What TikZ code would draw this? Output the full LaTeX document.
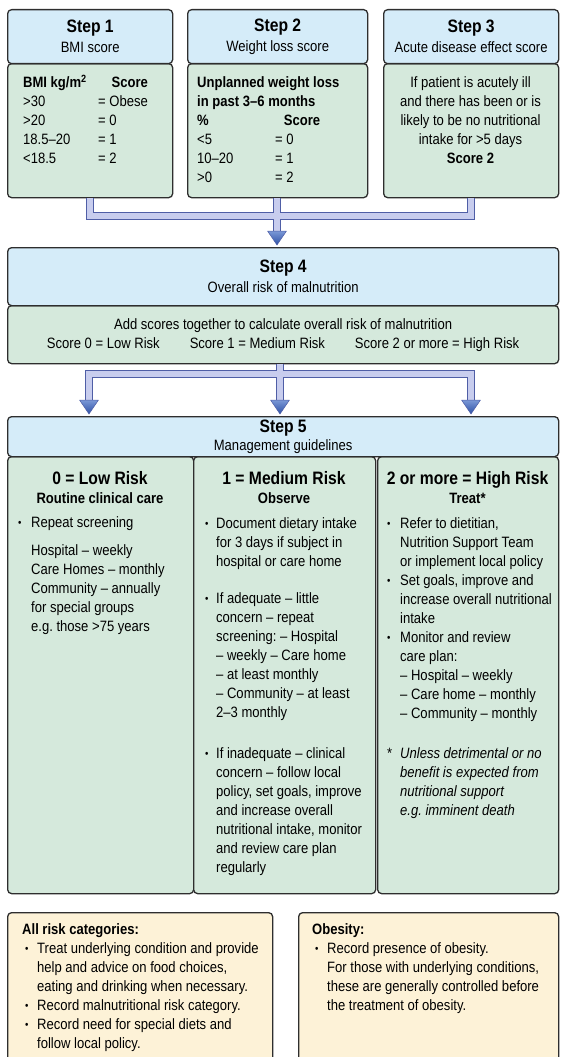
\documentclass[tikz,border=0pt]{standalone}
\usepackage{fontspec}
\setmainfont{Liberation Sans}[FakeStretch=0.87]
\usepackage{array}
\frenchspacing
\definecolor{hdrblue}{HTML}{D5ECF9}
\definecolor{bodygreen}{HTML}{D5E9DC}
\definecolor{notecream}{HTML}{FDF2D7}
\definecolor{boxline}{HTML}{2E2E2E}
\definecolor{pipeedge}{HTML}{4F5EA6}
\definecolor{pipefill}{HTML}{C8CDEE}
\definecolor{headtop}{HTML}{7A98D6}
\definecolor{headbot}{HTML}{2D50A5}
\newcommand\steptitle{\fontsize{18}{19}\selectfont\bfseries}
\newcommand\dotmark{\hspace*{1pt}\raisebox{1.3pt}{\fontsize{11}{19}\selectfont\textbullet}}

\begin{document}
\begin{tikzpicture}[x=1pt,y=-1pt,
    panel/.style={draw=boxline,line width=1.3pt,rounded corners=4pt,inner sep=0pt,anchor=north west,font=\fontsize{15}{19}\selectfont},
    stephdr/.style={panel,fill=hdrblue,align=center},
    stepbody/.style={panel,fill=bodygreen},
    notebox/.style={panel,fill=notecream},
    txt/.style={inner sep=0pt,anchor=north west,font=\fontsize{15}{19}\selectfont},
    pipeline/.style={draw=pipeedge,line width=1.2pt,double=pipefill,double distance=5.6pt},
    pipehead/.style={top color=headtop,bottom color=headbot,draw=pipeedge,line width=.5pt,line join=round}]
    \useasboundingbox (0,0) rectangle (560,1057);
    \clip (0,0) rectangle (560,1057);

    % steps 1 to 3
    \node[stepbody,minimum width=165pt,minimum height=134pt] (b1) at (7,63) {};
    \node[stephdr,minimum width=165pt,minimum height=54pt] (h1) at (7,9) {{\steptitle Step 1}\\[1pt]BMI score};
    \node[stepbody,minimum width=180pt,minimum height=134pt] (b2) at (187,63) {};
    \node[stephdr,minimum width=180pt,minimum height=54pt] (h2) at (187,9) {{\steptitle Step 2}\\[1pt]Weight loss score};
    \node[stepbody,minimum width=175pt,minimum height=134pt] (b3) at (383,63) {};
    \node[stephdr,minimum width=175pt,minimum height=54pt] (h3) at (383,9) {{\steptitle Step 3}\\[1pt]Acute disease effect score};

    \node[txt] (t1) at (23,74) {\begin{tabular}{@{}p{75pt}@{}l@{}}
        \textbf{BMI kg/m\textsuperscript{2}} & \multicolumn{1}{r@{}}{\bfseries Score}\\
        >30 & = Obese\\
        >20 & = 0\\
        18.5–20 & = 1\\
        <18.5 & = 2
    \end{tabular}};
    \node[txt] (t2) at (197,74) {\begin{tabular}{@{}p{78pt}@{}p{45pt}@{}}
        \multicolumn{2}{@{}l@{}}{\bfseries Unplanned weight loss}\\
        \multicolumn{2}{@{}l@{}}{\bfseries in past 3–6 months}\\
        \bfseries\% & \hfill\bfseries Score\\
        <5 & = 0\\
        10–20 & = 1\\
        >0 & = 2
    \end{tabular}};
    \node[txt,anchor=north] (t3) at (470.5,74) {\begin{tabular}{@{}c@{}}
        If patient is acutely ill\\
        and there has been or is\\
        likely to be no nutritional\\
        intake for >5 days\\
        \bfseries Score 2
    \end{tabular}};

    % step 4
    \node[stepbody,minimum width=551pt,minimum height=58pt,align=center] (b4) at (7,305) {Add scores together to calculate overall risk of malnutrition\\Score 0 = Low Risk\hspace{30pt}Score 1 = Medium Risk\hspace{30pt}Score 2 or more = High Risk};
    \node[stephdr,minimum width=551pt,minimum height=58pt] (h4) at (7,247) {{\steptitle Step 4}\\[1pt]Overall risk of malnutrition};

    % step 5
    \node[stepbody,minimum width=186pt,minimum height=437pt] (c1) at (7,456) {};
    \node[stepbody,minimum width=182pt,minimum height=437pt] (c2) at (193,456) {};
    \node[stepbody,minimum width=181pt,minimum height=437pt] (c3) at (377,456) {};
    \node[stephdr,minimum width=551pt,minimum height=40pt] (h5) at (7,416) {{\steptitle Step 5}\\[-1pt]Management guidelines};

    \node[txt,anchor=north] (k1) at (100,471) {\begin{tabular}{@{}c@{}}{\steptitle 0 = Low Risk}\\\bfseries Routine clinical care\end{tabular}};
    \node[txt,anchor=north] (k2) at (284,471) {\begin{tabular}{@{}c@{}}{\steptitle 1 = Medium Risk}\\\bfseries Observe\end{tabular}};
    \node[txt,anchor=north] (k3) at (467.5,471) {\begin{tabular}{@{}c@{}}{\steptitle 2 or more = High Risk}\\\bfseries Treat*\end{tabular}};

    \node[txt] (m1) at (17,514) {\begin{tabular}{@{}p{14pt}@{}l@{}}
        \dotmark & Repeat screening\\[9pt]
        & Hospital – weekly\\
        & Care Homes – monthly\\
        & Community – annually\\
        & for special groups\\
        & e.g. those >75 years
    \end{tabular}};
    \node[txt] (m2) at (204,515) {\begin{tabular}{@{}p{12pt}@{}l@{}}
        \dotmark & Document dietary intake\\
        & for 3 days if subject in\\
        & hospital or care home\\[18pt]
        \dotmark & If adequate – little\\
        & concern – repeat\\
        & screening: – Hospital\\
        & – weekly – Care home\\
        & – at least monthly\\
        & – Community – at least\\
        & 2–3 monthly\\[22pt]
        \dotmark & If inadequate – clinical\\
        & concern – follow local\\
        & policy, set goals, improve\\
        & and increase overall\\
        & nutritional intake, monitor\\
        & and review care plan\\
        & regularly
    \end{tabular}};
    \node[txt] (m3) at (386,515) {\begin{tabular}{@{}p{14pt}@{}l@{}}
        \dotmark & Refer to dietitian,\\
        & Nutrition Support Team\\
        & or implement local policy\\
        \dotmark & Set goals, improve and\\
        & increase overall nutritional\\
        & intake\\
        \dotmark & Monitor and review\\
        & care plan:\\
        & – Hospital – weekly\\
        & – Care home – monthly\\
        & – Community – monthly\\[21pt]
        \hspace*{1pt}* & \textit{Unless detrimental or no}\\
        & \textit{benefit is expected from}\\
        & \textit{nutritional support}\\
        & \textit{e.g. imminent death}
    \end{tabular}};

    % notes
    \node[notebox,minimum width=265pt,minimum height=200pt] (n1) at (7,912) {};
    \node[notebox,minimum width=260pt,minimum height=200pt] (n2) at (298,912) {};
    \node[txt] (p1) at (22,921) {\begin{tabular}{@{}p{15pt}@{}l@{}}
        \multicolumn{2}{@{}l@{}}{\bfseries All risk categories:}\\
        \hspace*{2pt}\dotmark & Treat underlying condition and provide\\
        & help and advice on food choices,\\
        & eating and drinking when necessary.\\
        \hspace*{2pt}\dotmark & Record malnutritional risk category.\\
        \hspace*{2pt}\dotmark & Record need for special diets and\\
        & follow local policy.
    \end{tabular}};
    \node[txt] (p2) at (312,921) {\begin{tabular}{@{}p{15pt}@{}l@{}}
        \multicolumn{2}{@{}l@{}}{\bfseries Obesity:}\\
        \hspace*{2pt}\dotmark & Record presence of obesity.\\
        & For those with underlying conditions,\\
        & these are generally controlled before\\
        & the treatment of obesity.
    \end{tabular}};

    % connectors
    \coordinate (bar1) at (277,216);
    \coordinate (in4) at (277,231);
    \draw[pipeline] (b1.south) |- (bar1) -| (b3.south) (bar1 |- b2.south) -- (in4);
    \coordinate (bar2) at (280,374);
    \coordinate (in5a) at (89,400);
    \coordinate (in5b) at (280,400);
    \coordinate (in5c) at (471,400);
    \draw[pipeline] (bar2 |- b4.south) -- (bar2) (in5a) |- (bar2) -| (in5c) (bar2) -- (in5b);
    \foreach \p in {in4,in5a,in5b,in5c}
        \shade[pipehead] ([xshift=-9.5pt]\p) -- ([xshift=9.5pt]\p) -- ([yshift=-14pt]\p) -- cycle;

\end{tikzpicture}
\end{document}
